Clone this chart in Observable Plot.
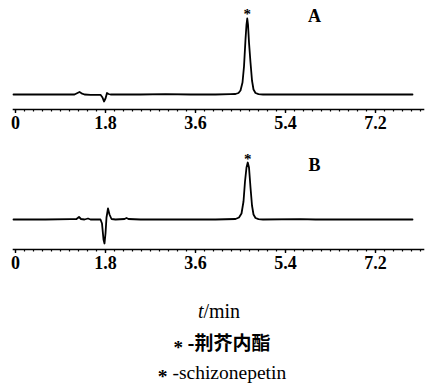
<!DOCTYPE html>
<html>
<head>
<meta charset="utf-8">
<script src="https://cdn.jsdelivr.net/npm/d3@7"></script>
<script src="https://cdn.jsdelivr.net/npm/@observablehq/plot@0.6"></script>
<style>
  html, body { margin: 0; padding: 0; background: #fff; }
  #wrap { position: relative; width: 431px; height: 386px; overflow: hidden; }
  .panel svg { display: block; font-family: "Liberation Serif", "DejaVu Serif", "Times New Roman", serif !important; }
  .panel svg text { font-family: "Liberation Serif", "DejaVu Serif", "Times New Roman", serif !important; }
  .cap { position: absolute; left: 0; width: 431px; text-align: center; color: #000; white-space: nowrap; line-height: 1; box-sizing: border-box; }
  .serif { font-family: "Liberation Serif", "DejaVu Serif", "Times New Roman", serif; }
  .cjk { font-family: "Noto Sans CJK SC", sans-serif; font-weight: bold; }
  .star { font-family: "Liberation Serif", "DejaVu Serif", serif; font-weight: bold; position: relative; top: 4px; }
</style>
</head>
<body>
<div id="wrap">
  <div id="panelA" class="panel"></div>
  <div id="panelB" class="panel"></div>
  <div class="cap serif" style="top:301px; font-size:20px; padding-left:7px;"><i>t</i>/min</div>
  <div class="cap cjk" style="top:332px; font-size:19px; padding-left:13px;"><span class="star">*</span> -荆芥内酯</div>
  <div class="cap serif" style="top:363px; font-size:19.5px; padding-left:13px;"><span class="star">*</span> -schizonepetin</div>
</div>
<script>
// time (min) axis
const majorTicks = [0, 1.8, 3.6, 5.4, 7.2];
const minorTicks = d3.range(0, 46).map(i => +(i * 0.18).toFixed(2));

// Chromatogram A: [time (min), detector response]
const traceA = [
  [-0.04, 0], [0.5, 0], [1.0, 0.2], [1.18, 0], [1.24, 1.5], [1.28, 2.5], [1.32, 1.2], [1.38, 0],
  [1.5, -0.3], [1.7, -0.3], [1.74, -3], [1.77, -7], [1.80, -4], [1.83, 1.5], [1.86, 0.5], [1.9, 0],
  [2.5, 0], [3.0, 0.3], [3.5, 0], [4.0, 0], [4.3, 0.3], [4.40, 0.5], [4.46, 1.5], [4.50, 4],
  [4.54, 12], [4.57, 28], [4.60, 55], [4.62, 70], [4.635, 76], [4.65, 70], [4.67, 52], [4.70, 32],
  [4.73, 14], [4.76, 5], [4.80, 1.5], [4.86, 0.4], [4.95, 0], [5.5, 0], [6.0, 0], [7.0, 0], [7.94, 0]
];
// Chromatogram B
const traceB = [
  [-0.04, 0], [0.6, 0], [1.1, 0.3], [1.22, 0.5], [1.27, 2.5], [1.31, 0.5], [1.38, 0], [1.45, 1],
  [1.5, 0], [1.7, 0], [1.73, -4], [1.76, -20], [1.78, -24], [1.80, -14], [1.82, 2], [1.85, 11],
  [1.88, 5], [1.92, 0.5], [2.0, 0], [2.18, 0.5], [2.22, 1.5], [2.26, 0.5], [2.5, 0], [3.5, 0],
  [4.0, 0], [4.40, 0.5], [4.47, 2], [4.52, 6], [4.56, 18], [4.59, 38], [4.62, 52], [4.645, 57],
  [4.67, 52], [4.70, 32], [4.73, 14], [4.76, 5], [4.80, 1.5], [4.86, 0.4], [4.95, 0], [5.7, 0.3],
  [6.0, 0], [7.0, 0], [7.94, 0]
];
const peakA = [4.635, 76];
const peakB = [4.645, 57];
const panelLabels = ["A", "B"];

function panel(trace, peak, yDomain, label, labelY, starDy) {
  return Plot.plot({
    width: 431,
    height: 140,
    marginLeft: 13,
    marginRight: 8,
    marginTop: 0,
    marginBottom: 31,
    style: "font-family: 'Liberation Serif', 'DejaVu Serif', 'Times New Roman', serif; color: #000; background: #fff;",
    x: { domain: [-0.04, 8.16] },
    y: { domain: yDomain, axis: null },
    marks: [
      Plot.frame({ anchor: "bottom", stroke: "#000", strokeWidth: 1.6 }),
      Plot.axisX({ ticks: minorTicks, tickSize: 2.5, tickFormat: () => "", strokeWidth: 1.2 }),
      Plot.axisX({ ticks: majorTicks, tickSize: 4, tickPadding: 3, strokeWidth: 1.4,
        tickFormat: d => d === 0 ? "0" : d.toFixed(1), fontSize: 18, fontWeight: "bold", label: null }),
      Plot.line(trace, { x: d => d[0], y: d => d[1], stroke: "#000", strokeWidth: 1.8, strokeLinejoin: "round" }),
      Plot.text([peak], { x: d => d[0], y: d => d[1], text: () => "*", dy: starDy, fontSize: 15, fontWeight: "bold" }),
      Plot.text([label], { x: 5.98, y: labelY, text: d => d, fontSize: 18, fontWeight: "bold" })
    ]
  });
}

document.getElementById("panelA").append(panel(traceA, peakA, [-15, 94], panelLabels[0], 78, -4));
document.getElementById("panelB").append(panel(traceB, peakB, [-30, 79], panelLabels[1], 54, -3));
</script>
</body>
</html>
